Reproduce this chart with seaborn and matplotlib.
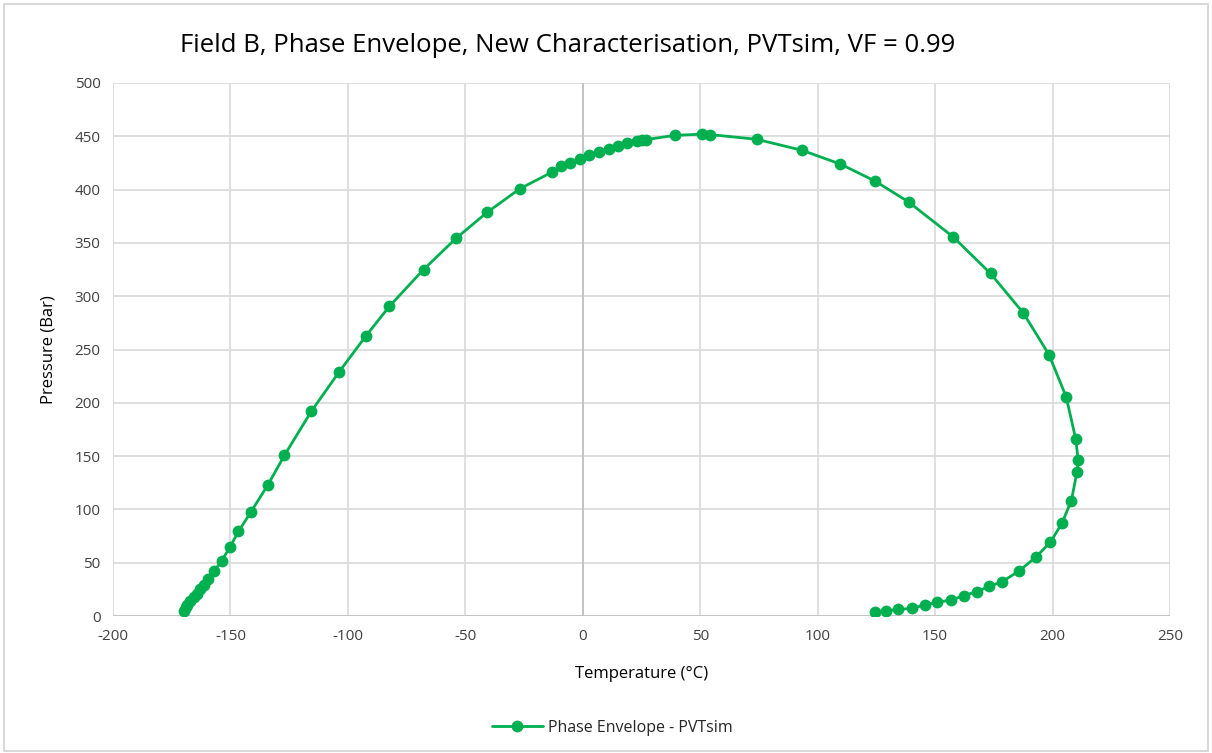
import pandas as pd
import matplotlib
matplotlib.use('Agg')
import matplotlib.pyplot as plt
import seaborn as sns
from matplotlib.patches import Rectangle

# Phase envelope points, in drawing order (bubble side -> dew side)
temperature = [-169.7, -169.0, -168.3, -167.2, -165.7, -164.3, -162.9, -161.2, -159.4,
               -156.9, -153.7, -150.3, -146.6, -141.4, -134.0, -127.0, -115.6, -103.7,
               -92.4, -82.3, -67.8, -53.8, -40.7, -26.8, -13.0, -9.1, -5.6, -1.0, 2.8,
               7.0, 11.2, 15.0, 18.9, 23.1, 25.2, 26.9, 39.2, 50.7, 54.2, 74.0, 93.3,
               109.6, 124.6, 138.7, 157.7, 173.6, 187.6, 198.5, 205.8, 209.9, 210.9,
               210.4, 208.0, 204.0, 199.1, 192.8, 185.8, 178.6, 173.1, 167.7, 162.3,
               156.8, 151.0, 145.5, 140.1, 134.2, 129.1, 124.2]
pressure = [4.7, 8.3, 10.6, 13.8, 17.5, 21.0, 25.0, 28.9, 34.5,
            42.3, 51.7, 64.3, 79.3, 97.2, 123.2, 150.8, 191.9, 229.1,
            262.5, 290.6, 325.0, 354.6, 378.7, 400.8, 416.5, 421.9, 425.0, 429.1, 432.8,
            435.3, 438.5, 441.3, 443.4, 445.3, 446.2, 446.9, 450.9, 452.0, 451.6, 447.2, 436.9,
            424.0, 407.8, 388.4, 355.6, 321.3, 284.1, 245.1, 205.6, 165.6, 146.1,
            135.1, 108.2, 87.1, 69.2, 55.1, 42.3, 32.3, 27.8, 22.9, 19.1,
            15.1, 12.8, 10.3, 7.1, 6.2, 4.7, 3.6]

x_ticks = [-200, -150, -100, -50, 0, 50, 100, 150, 200, 250]
y_ticks = [0, 50, 100, 150, 200, 250, 300, 350, 400, 450, 500]

df = pd.DataFrame({'Temperature': temperature, 'Pressure': pressure})

sns.set_style('whitegrid')
plt.rcParams['font.family'] = ['Open Sans', 'DejaVu Sans']
plt.rcParams['axes.unicode_minus'] = False

green = '#00B050'
grid_grey = '#D9D9D9'
text_grey = '#404040'

fig = plt.figure(figsize=(12.12, 7.53), dpi=100)
ax = fig.add_axes([113 / 1212, 1 - 616 / 753, (1170 - 113) / 1212, (616 - 83) / 753])

sns.lineplot(data=df, x='Temperature', y='Pressure', sort=False, estimator=None,
             color=green, linewidth=2.0, marker='o', markersize=8.5,
             markeredgewidth=0, label='Phase Envelope - PVTsim', ax=ax)

ax.set_xlim(-200, 250)
ax.set_ylim(0, 500)
ax.set_xticks(x_ticks)
ax.set_yticks(y_ticks)
ax.grid(True, color=grid_grey, linewidth=1.2)
for s in ax.spines.values():
    s.set_visible(False)
ax.axhline(0, color='#BFBFBF', linewidth=1.2, zorder=1)
ax.axvline(0, color='#BFBFBF', linewidth=1.2, zorder=1)
ax.tick_params(axis='both', length=0, labelsize=11, colors=text_grey, pad=9)

ax.set_xlabel('Temperature (°C)', fontsize=12, color='#000000', labelpad=16)
ax.set_ylabel('Pressure (Bar)', fontsize=12, color='#000000', labelpad=13)

fig.text(0.468, 1 - 45 / 753, 'Field B, Phase Envelope, New Characterisation, PVTsim, VF = 0.99',
         ha='center', va='center', fontsize=18.5, color='#000000')

ax.legend_.remove()
handles, labels = ax.get_legend_handles_labels()
fig.legend(handles, labels, loc='center', bbox_to_anchor=(0.505, 1 - 728 / 753),
           frameon=False, fontsize=11.5, handlelength=3.2, handletextpad=0.3)

fig.patches.append(Rectangle((0.003, 0.003), 0.994, 0.992, transform=fig.transFigure,
                             fill=False, edgecolor='#D9D9D9', linewidth=1.5))

fig.savefig('out.png', dpi=100)
